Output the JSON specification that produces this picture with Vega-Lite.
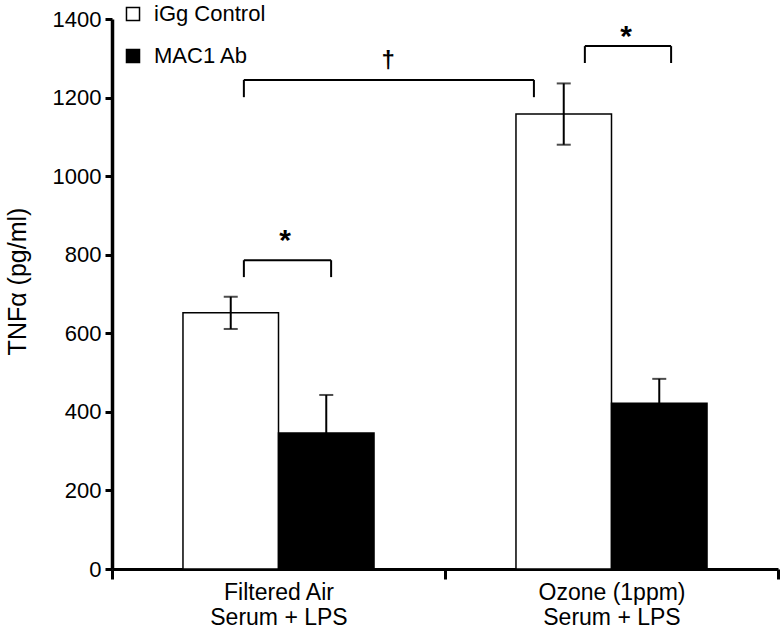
{
  "$schema": "https://vega.github.io/schema/vega-lite/v6.json",
  "autosize": "none",
  "width": 666,
  "height": 550,
  "padding": {"left": 112, "top": 19, "right": 2, "bottom": 69},
  "background": "white",
  "config": {
    "font": "Liberation Sans",
    "view": {"stroke": null},
    "axis": {"grid": false, "domainColor": "black", "tickColor": "black", "labelColor": "black", "titleColor": "black", "labelFont": "Liberation Sans", "titleFont": "Liberation Sans", "titleFontWeight": "normal"}
  },
  "datasets": {
    "bars": [
      {"group": "Filtered Air|Serum + LPS", "series": "iGg Control", "value": 652, "err": 41},
      {"group": "Filtered Air|Serum + LPS", "series": "MAC1 Ab", "value": 346, "err": 97},
      {"group": "Ozone (1ppm)|Serum + LPS", "series": "iGg Control", "value": 1158, "err": 78},
      {"group": "Ozone (1ppm)|Serum + LPS", "series": "MAC1 Ab", "value": 422, "err": 62}
    ],
    "brackets": [
      {"left": 0.396, "right": 0.658, "top": 786, "leg": 743, "mid": 0.52, "labelY": 836, "label": "*", "size": 30},
      {"left": 0.396, "right": 1.267, "top": 1245, "leg": 1201, "mid": 0.829, "labelY": 1292, "label": "†", "size": 24},
      {"left": 1.42, "right": 1.679, "top": 1331, "leg": 1288, "mid": 1.544, "labelY": 1353, "label": "*", "size": 30}
    ]
  },
  "resolve": {"scale": {"x": "independent"}},
  "layer": [
    {
      "data": {"name": "bars"},
      "layer": [
        {
          "mark": {"type": "bar", "stroke": "black", "strokeWidth": 1.5},
          "encoding": {
            "x": {"field": "group", "type": "nominal", "sort": null,
              "scale": {"paddingInner": 0, "paddingOuter": 0},
              "axis": {"title": null, "labelAngle": 0, "labelExpr": "split(datum.label, '|')", "labelFontSize": 23, "labelLineHeight": 25, "labelPadding": 2, "domainWidth": 3, "tickWidth": 3, "tickSize": 10, "tickBand": "extent"}},
            "xOffset": {"field": "series", "type": "nominal", "sort": null, "scale": {"paddingInner": 0, "paddingOuter": 0.743}},
            "y": {"field": "value", "type": "quantitative",
              "scale": {"domain": [0, 1400], "nice": false},
              "axis": {"title": "TNFα (pg/ml)", "format": "d", "values": [0, 200, 400, 600, 800, 1000, 1200, 1400], "labelFontSize": 22, "labelPadding": 4, "titleFontSize": 25, "titleX": -95, "titleY": 262, "titleAlign": "center", "titleBaseline": "middle", "titleAngle": -90, "domainWidth": 3.5, "tickWidth": 3, "tickSize": 7}},
            "fill": {"field": "series", "type": "nominal", "sort": null,
              "scale": {"range": ["white", "black"]},
              "legend": {"title": null, "orient": "none", "legendX": 10, "legendY": -16, "symbolType": "square", "symbolSize": 170, "symbolStrokeColor": "black", "symbolStrokeWidth": 1.5, "labelFontSize": 22, "labelColor": "black", "labelFont": "Liberation Sans", "rowPadding": 20, "labelOffset": 10}}
          }
        },
        {
          "mark": {"type": "rule", "color": "black", "strokeWidth": 2},
          "encoding": {
            "x": {"field": "group", "type": "nominal", "sort": null},
            "xOffset": {"field": "series", "type": "nominal", "sort": null},
            "y": {"field": "lo", "type": "quantitative"},
            "y2": {"field": "hi"}
          },
          "transform": [{"calculate": "datum.value - datum.err", "as": "lo"}, {"calculate": "datum.value + datum.err", "as": "hi"}]
        },
        {
          "mark": {"type": "tick", "color": "black", "thickness": 2, "size": 14},
          "encoding": {
            "x": {"field": "group", "type": "nominal", "sort": null},
            "xOffset": {"field": "series", "type": "nominal", "sort": null},
            "y": {"field": "hi", "type": "quantitative"}
          },
          "transform": [{"calculate": "datum.value + datum.err", "as": "hi"}]
        },
        {
          "mark": {"type": "tick", "color": "black", "thickness": 2, "size": 14},
          "encoding": {
            "x": {"field": "group", "type": "nominal", "sort": null},
            "xOffset": {"field": "series", "type": "nominal", "sort": null},
            "y": {"field": "lo", "type": "quantitative"}
          },
          "transform": [{"calculate": "datum.value - datum.err", "as": "lo"}]
        }
      ]
    },
    {
      "data": {"name": "brackets"},
      "layer": [
        {
          "mark": {"type": "rule", "color": "black", "strokeWidth": 2},
          "encoding": {
            "x": {"field": "left", "type": "quantitative", "scale": {"domain": [0, 2]}, "axis": null},
            "x2": {"field": "right"},
            "y": {"field": "top", "type": "quantitative"}
          }
        },
        {
          "mark": {"type": "rule", "color": "black", "strokeWidth": 2},
          "encoding": {
            "x": {"field": "left", "type": "quantitative", "scale": {"domain": [0, 2]}, "axis": null},
            "y": {"field": "top", "type": "quantitative"},
            "y2": {"field": "leg"}
          }
        },
        {
          "mark": {"type": "rule", "color": "black", "strokeWidth": 2},
          "encoding": {
            "x": {"field": "right", "type": "quantitative", "scale": {"domain": [0, 2]}, "axis": null},
            "y": {"field": "top", "type": "quantitative"},
            "y2": {"field": "leg"}
          }
        },
        {
          "mark": {"type": "text", "color": "black", "baseline": "middle", "align": "center", "font": "Liberation Sans", "fontWeight": "bold"},
          "encoding": {
            "x": {"field": "mid", "type": "quantitative", "scale": {"domain": [0, 2]}, "axis": null},
            "y": {"field": "labelY", "type": "quantitative"},
            "text": {"field": "label"},
            "size": {"field": "size", "type": "quantitative", "scale": null, "legend": null}
          }
        }
      ]
    }
  ]
}
